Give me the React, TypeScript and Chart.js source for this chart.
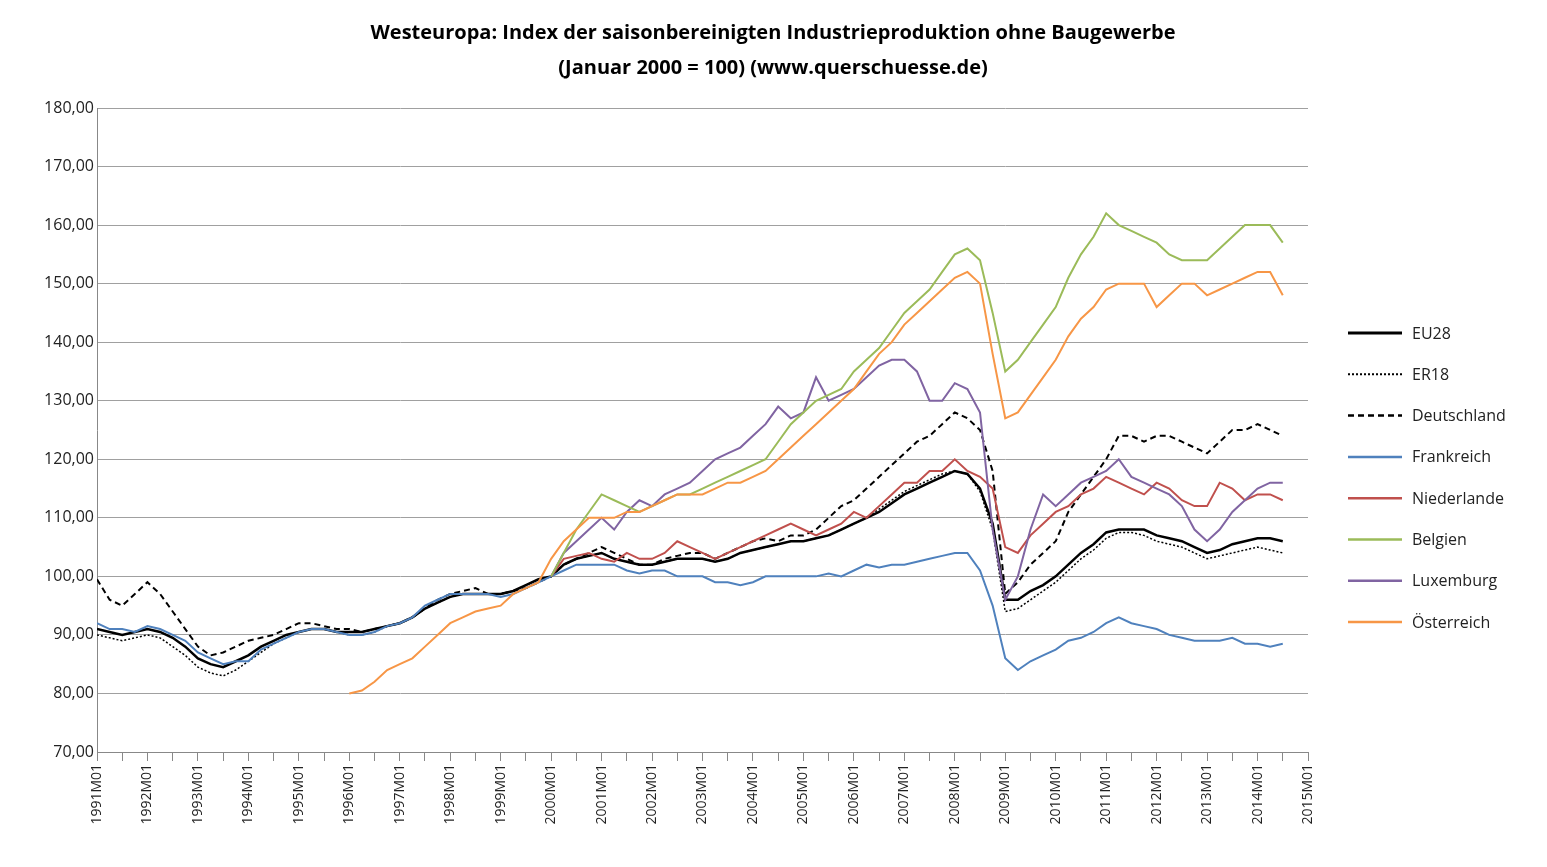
import React, { useEffect, useRef } from "react";
import { Chart, registerables } from "chart.js";
Chart.register(...registerables);

const titleLines = ["Westeuropa: Index der saisonbereinigten Industrieproduktion ohne Baugewerbe", "(Januar 2000 = 100) (www.querschuesse.de)"];
const seriesNames = ["EU28", "ER18", "Deutschland", "Frankreich", "Niederlande", "Belgien", "Luxemburg", "Österreich"];
// quarterly values; start month offsets from 1991M01
const startMonths = [0, 0, 0, 0, 108, 108, 108, 60];
const eu28 = [91,90.5,90,90.5, 91,90.5,89.5,88, 86,85,84.5,85.5, 86.5,88,89,90, 90.5,91,91,90.5, 90.5,90.5,91,91.5, 92,93,94.5,95.5, 96.5,97,97,97, 97,97.5,98.5,99.5, 100,102,103,103.5, 104,103,102.5,102, 102,102.5,103,103, 103,102.5,103,104, 104.5,105,105.5,106, 106,106.5,107,108, 109,110,111,112.5, 114,115,116,117, 118,117.5,115,109, 96,96,97.5,98.5, 100,102,104,105.5, 107.5,108,108,108, 107,106.5,106,105, 104,104.5,105.5,106, 106.5,106.5,106];
const er18 = [90,89.5,89,89.5, 90,89.5,88,86.5, 84.5,83.5,83,84, 85.5,87,88.5,89.5, 90.5,91,91,90.5, 90,90,90.5,91.5, 92,93,94.5,95.5, 96.5,97,97,97, 97,97.5,98.5,99.5, 100,102,103,103.5, 104,103,102.5,102, 102,102.5,103,103, 103,102.5,103,104, 104.5,105,105.5,106, 106,106.5,107,108, 109,110,111.5,113, 114.5,115.5,116.5,117.5, 118,117.5,114.5,108, 94,94.5,96,97.5, 99,101,103,104.5, 106.5,107.5,107.5,107, 106,105.5,105,104, 103,103.5,104,104.5, 105,104.5,104];
const deutschland = [99.5,96,95,97, 99,97,94,91, 88,86.5,87,88, 89,89.5,90,91, 92,92,91.5,91, 91,90.5,91,91.5, 92,93,94.5,96, 97,97.5,98,97, 97,97.5,98,99, 100,102,103,104, 105,104,103,102, 102,103,103.5,104, 104,103,104,105, 106,106.5,106,107, 107,108,110,112, 113,115,117,119, 121,123,124,126, 128,127,125,118, 97,99,102,104, 106,111,114,117, 120,124,124,123, 124,124,123,122, 121,123,125,125, 126,125,124];
const frankreich = [92,91,91,90.5, 91.5,91,90,89, 87,86,85,85.5, 85.5,87.5,88.5,89.5, 90.5,91,91,90.5, 90,90,90.5,91.5, 92,93,95,96, 97,97,97,97, 96.5,97,98,99, 100,101,102,102, 102,102,101,100.5, 101,101,100,100, 100,99,99,98.5, 99,100,100,100, 100,100,100.5,100, 101,102,101.5,102, 102,102.5,103,103.5, 104,104,101,95, 86,84,85.5,86.5, 87.5,89,89.5,90.5, 92,93,92,91.5, 91,90,89.5,89, 89,89,89.5,88.5, 88.5,88,88.5];
const niederlande = [100,103,103.5,104, 103,102.5,104,103, 103,104,106,105, 104,103,104,105, 106,107,108,109, 108,107,108,109, 111,110,112,114, 116,116,118,118, 120,118,117,115, 105,104,107,109, 111,112,114,115, 117,116,115,114, 116,115,113,112, 112,116,115,113, 114,114,113];
const belgien = [100,104,108,111, 114,113,112,111, 112,113,114,114, 115,116,117,118, 119,120,123,126, 128,130,131,132, 135,137,139,142, 145,147,149,152, 155,156,154,145, 135,137,140,143, 146,151,155,158, 162,160,159,158, 157,155,154,154, 154,156,158,160, 160,160,157];
const luxemburg = [100,104,106,108, 110,108,111,113, 112,114,115,116, 118,120,121,122, 124,126,129,127, 128,134,130,131, 132,134,136,137, 137,135,130,130, 133,132,128,108, 96,100,108,114, 112,114,116,117, 118,120,117,116, 115,114,112,108, 106,108,111,113, 115,116,116];
const oesterreich = [80,80.5,82,84, 85,86,88,90, 92,93,94,94.5, 95,97,98,99, 103,106,108,110, 110,110,111,111, 112,113,114,114, 114,115,116,116, 117,118,120,122, 124,126,128,130, 132,135,138,140, 143,145,147,149, 151,152,150,138, 127,128,131,134, 137,141,144,146, 149,150,150,150, 146,148,150,150, 148,149,150,151, 152,152,148];
const seriesValues = [eu28, er18, deutschland, frankreich, niederlande, belgien, luxemburg, oesterreich];
const colors = ["#000000", "#000000", "#000000", "#4f81bd", "#c0504d", "#9bbb59", "#8064a2", "#f79646"];
const widths = [2.5, 1.5, 2, 2, 2, 2, 2, 2];
const dashes: number[][] = [[], [2, 2], [6, 4], [], [], [], [], []];

export default function App() {
  const ref = useRef<HTMLCanvasElement>(null);
  useEffect(() => {
    const font = "'Open Sans', sans-serif";
    const datasets = seriesNames.map((name, i) => ({
      label: name,
      data: seriesValues[i].map((v, k) => ({ x: startMonths[i] + k * 3, y: v })),
      borderColor: colors[i],
      borderWidth: widths[i],
      borderDash: dashes[i],
      pointRadius: 0,
      tension: 0,
      fill: false,
    }));
    const order = [7, 5, 6, 4, 3, 2, 1, 0];
    const overlay = {
      id: "overlay",
      afterDraw(chart: any) {
        const ctx = chart.ctx;
        ctx.save();
        ctx.fillStyle = "#000";
        ctx.font = `bold 20px ${font}`;
        ctx.textAlign = "center";
        ctx.textBaseline = "middle";
        ctx.fillText(titleLines[0], 765, 25);
        ctx.fillText(titleLines[1], 765, 60);
        ctx.textAlign = "left";
        ctx.font = `16px ${font}`;
        seriesNames.forEach((n, i) => {
          const y = 325 + i * 41.3;
          ctx.beginPath();
          ctx.strokeStyle = colors[i];
          ctx.lineWidth = widths[i] + 0.5;
          ctx.setLineDash(dashes[i]);
          ctx.moveTo(1340, y);
          ctx.lineTo(1394, y);
          ctx.stroke();
          ctx.setLineDash([]);
          ctx.fillStyle = "#222";
          ctx.fillText(n, 1404, y + 1);
        });
        ctx.restore();
      },
    };
    const chart = new Chart(ref.current!, {
      type: "line",
      data: { datasets: order.map((i) => datasets[i]) as any },
      options: {
        animation: false,
        responsive: true,
        maintainAspectRatio: false,
        layout: { padding: { top: 100, right: 231, left: 0, bottom: 0 } },
        plugins: { legend: { display: false }, tooltip: { enabled: false } },
        scales: {
          x: {
            type: "linear",
            min: 0,
            max: 288,
            afterFit: (s: any) => { s.height = 107; },
            afterBuildTicks: (s: any) => {
              const t = [];
              for (let v = 0; v <= 288; v += 6) t.push({ value: v });
              s.ticks = t;
            },
            ticks: {
              autoSkip: false,
              maxRotation: 90,
              minRotation: 90,
              color: "#222",
              font: { family: font, size: 14 },
              callback: (v: any) => (v % 12 === 0 ? `${1991 + v / 12}M01` : ""),
            },
            grid: { drawOnChartArea: false, tickLength: 9, color: "#888" },
            border: { color: "#888" },
          },
          y: {
            min: 70,
            max: 180,
            afterFit: (s: any) => { s.width = 89; },
            ticks: {
              stepSize: 10,
              color: "#222",
              font: { family: font, size: 16 },
              callback: (v: any) => Number(v).toFixed(2).replace(".", ","),
            },
            grid: { color: "#a0a0a0", drawTicks: false },
            border: { color: "#888" },
          },
        },
      },
      plugins: [overlay],
    });
    return () => chart.destroy();
  }, []);
  return (
    <div style={{ position: "relative", width: 1531, height: 851 }}>
      <canvas ref={ref} />
    </div>
  );
}
